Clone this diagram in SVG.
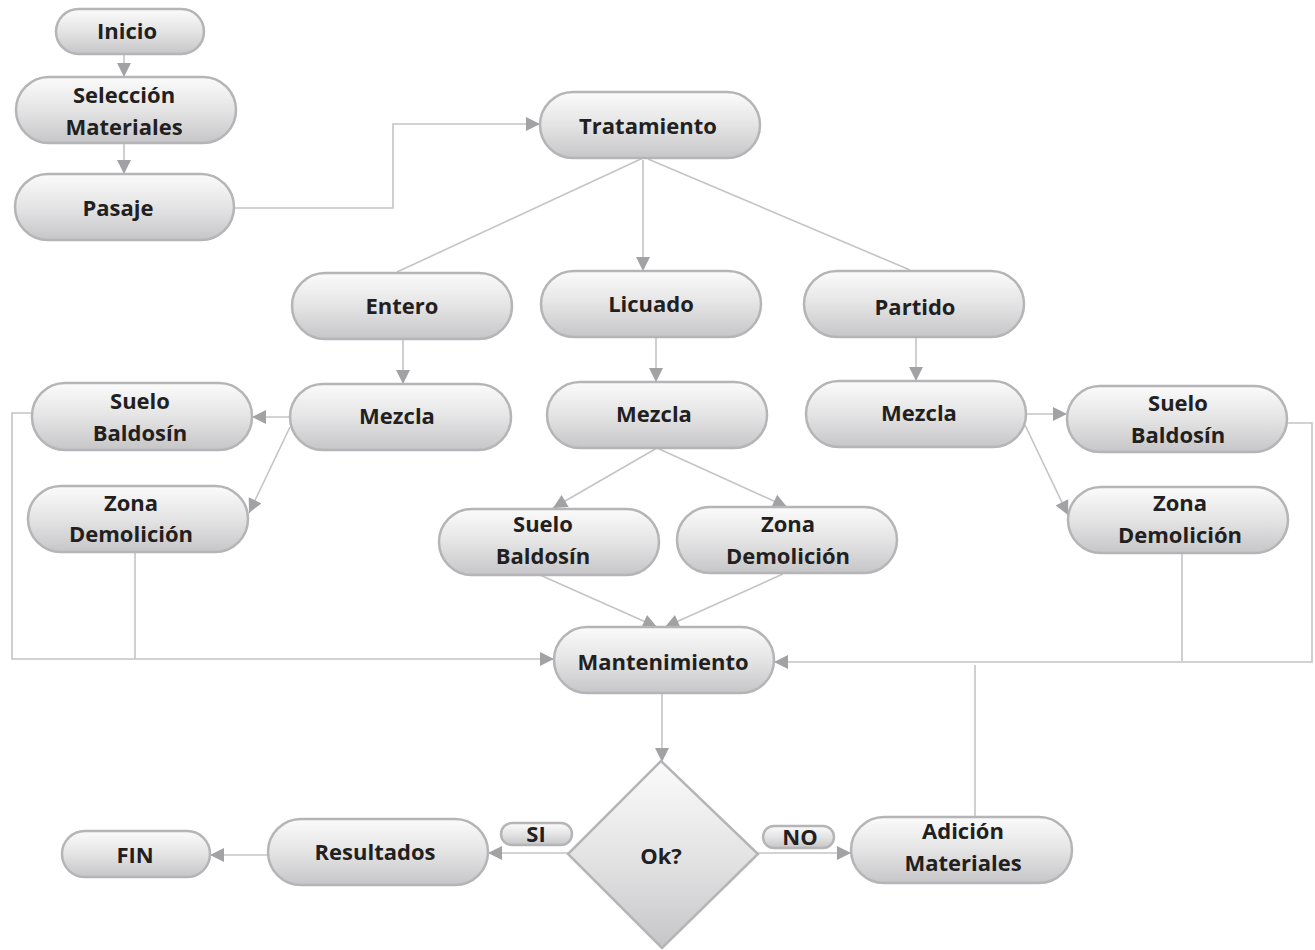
<svg xmlns="http://www.w3.org/2000/svg" width="1315" height="950" viewBox="0 0 1315 950">
<style>
.n{fill:url(#g);stroke:#b5b5b7;stroke-width:2.5}
.t{font-family:"Open Sans","Liberation Sans",sans-serif;font-weight:700;font-size:22px;fill:#231f20;text-anchor:middle}
.c{fill:none;stroke:#c4c4c6;stroke-width:1.6}
.a{marker-end:url(#ah)}
</style>
<defs>
<linearGradient id="g" x1="0" y1="0" x2="0" y2="1">
<stop offset="0" stop-color="#fbfbfb"/>
<stop offset="0.5" stop-color="#e4e4e5"/>
<stop offset="1" stop-color="#c6c6c8"/>
</linearGradient>
<marker id="ah" markerUnits="userSpaceOnUse" markerWidth="16" markerHeight="16" viewBox="0 0 16 16" refX="15" refY="8" orient="auto">
<path d="M1,1 L15,8 L1,15 Z" fill="#a2a2a5"/>
</marker>
</defs>
<g id="connectors">
<path class="c a" d="M124,54 V77"/>
<path class="c a" d="M124,143 V174"/>
<path class="c a" d="M234,208 H393 V124 H540"/>
<path class="c" d="M643,158 L397,272"/>
<path class="c a" d="M643,160 V271"/>
<path class="c" d="M648,159 L910,270"/>
<path class="c a" d="M403,339 V384"/>
<path class="c a" d="M656,337 V382"/>
<path class="c a" d="M916,337 V381"/>
<path class="c a" d="M290,417 H252"/>
<path class="c a" d="M290,427 L249,513"/>
<path class="c a" d="M657,448 L553,508"/>
<path class="c a" d="M657,448 L787,507"/>
<path class="c a" d="M1026,414 H1067"/>
<path class="c a" d="M1025,425 L1068,515"/>
<path class="c a" d="M540,575 L657,627"/>
<path class="c a" d="M783,574 L665,627"/>
<path class="c a" d="M32,413 H12 V659 H554"/>
<path class="c" d="M135,552 V659"/>
<path class="c a" d="M1287,423 H1312 V662 H774"/>
<path class="c" d="M1182,553 V661"/>
<path class="c" d="M975,817 V665"/>
<path class="c a" d="M662,693 V762"/>
<path class="c a" d="M568,853 H488"/>
<path class="c a" d="M268,855 H210"/>
<path class="c a" d="M757,853 H851"/>
</g>
<g id="inicio"><rect class="n" x="56" y="9" width="148" height="45" rx="22.5"/><text class="t" x="127" y="39">Inicio</text></g>
<g id="seleccion"><rect class="n" x="16" y="77" width="220" height="66" rx="33"/><text class="t" x="124" y="103">Selección</text><text class="t" x="124" y="135">Materiales</text></g>
<g id="pasaje"><rect class="n" x="15" y="174" width="219" height="66" rx="33"/><text class="t" x="118" y="216">Pasaje</text></g>
<g id="tratamiento"><rect class="n" x="540" y="92" width="220" height="66" rx="33"/><text class="t" x="648" y="134">Tratamiento</text></g>
<g id="entero"><rect class="n" x="292" y="273" width="220" height="66" rx="33"/><text class="t" x="402" y="314">Entero</text></g>
<g id="licuado"><rect class="n" x="541" y="271" width="220" height="66" rx="33"/><text class="t" x="651" y="312">Licuado</text></g>
<g id="partido"><rect class="n" x="804" y="271" width="220" height="66" rx="33"/><text class="t" x="915" y="315">Partido</text></g>
<g id="mezcla1"><rect class="n" x="290" y="384" width="221" height="66" rx="33"/><text class="t" x="397" y="424">Mezcla</text></g>
<g id="mezcla2"><rect class="n" x="547" y="382" width="220" height="66" rx="33"/><text class="t" x="654" y="422">Mezcla</text></g>
<g id="mezcla3"><rect class="n" x="806" y="381" width="220" height="66" rx="33"/><text class="t" x="919" y="421">Mezcla</text></g>
<g id="suelo1"><rect class="n" x="32" y="383" width="220" height="67" rx="33"/><text class="t" x="140" y="409">Suelo</text><text class="t" x="140" y="441">Baldosín</text></g>
<g id="zona1"><rect class="n" x="28" y="486" width="220" height="66" rx="33"/><text class="t" x="131" y="511">Zona</text><text class="t" x="131" y="542">Demolición</text></g>
<g id="suelo2"><rect class="n" x="439" y="509" width="220" height="66" rx="33"/><text class="t" x="543" y="532">Suelo</text><text class="t" x="543" y="564">Baldosín</text></g>
<g id="zona2"><rect class="n" x="677" y="507" width="220" height="66" rx="33"/><text class="t" x="788" y="532">Zona</text><text class="t" x="788" y="564">Demolición</text></g>
<g id="suelo3"><rect class="n" x="1067" y="386" width="220" height="66" rx="33"/><text class="t" x="1178" y="411">Suelo</text><text class="t" x="1178" y="443">Baldosín</text></g>
<g id="zona3"><rect class="n" x="1068" y="487" width="220" height="66" rx="33"/><text class="t" x="1180" y="511">Zona</text><text class="t" x="1180" y="543">Demolición</text></g>
<g id="mantenimiento"><rect class="n" x="554" y="627" width="220" height="66" rx="33"/><text class="t" x="663" y="670">Mantenimiento</text></g>
<g id="ok"><path class="n" d="M661,761 L758,854 L662,948 L568,854 Z"/><text class="t" x="661" y="864">Ok?</text></g>
<g id="resultados"><rect class="n" x="268" y="819" width="220" height="66" rx="33"/><text class="t" x="375" y="860">Resultados</text></g>
<g id="fin"><rect class="n" x="62" y="831" width="148" height="46" rx="23"/><text class="t" x="135" y="863">FIN</text></g>
<g id="adicion"><rect class="n" x="851" y="817" width="221" height="66" rx="33"/><text class="t" x="963" y="839">Adición</text><text class="t" x="963" y="871">Materiales</text></g>
<g id="si"><rect class="n" x="501" y="823" width="71" height="22" rx="11" stroke-width="1.5"/><text class="t" x="536" y="842">SI</text></g>
<g id="no"><rect class="n" x="763" y="826" width="71" height="22" rx="11" stroke-width="1.5"/><text class="t" x="800" y="845">NO</text></g>
</svg>
